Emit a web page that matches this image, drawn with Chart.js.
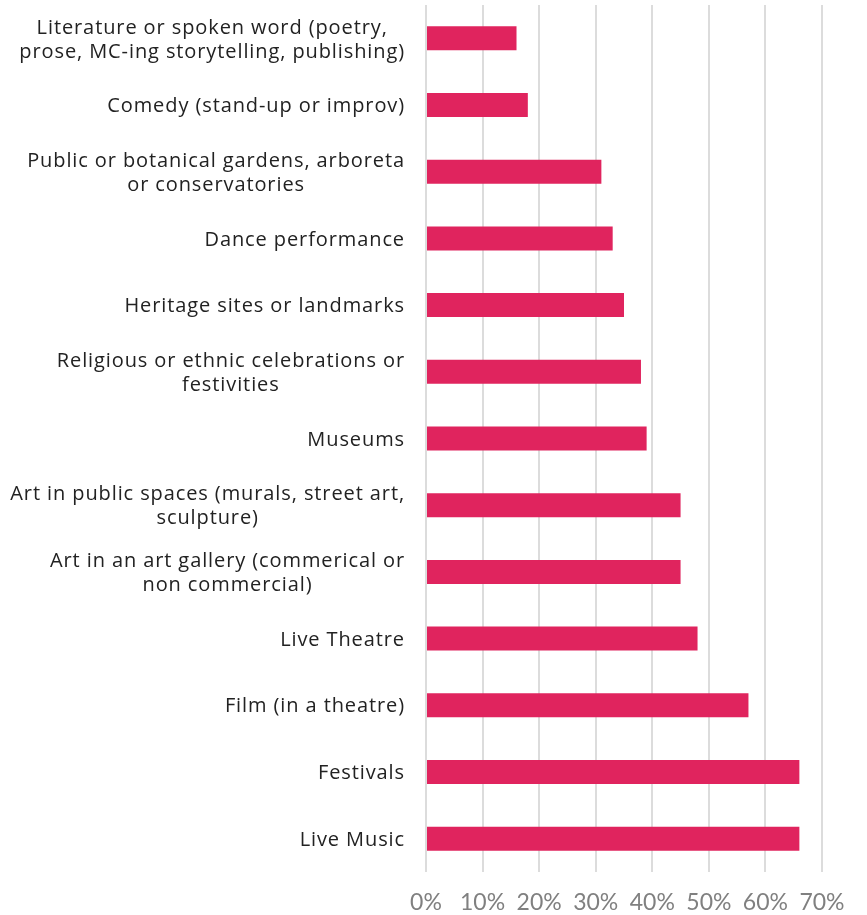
<!DOCTYPE html>
<html>
<head>
<meta charset="utf-8">
<script src="https://cdn.jsdelivr.net/npm/chart.js@4"></script>
<style>
  html, body { margin: 0; padding: 0; background: #fff; }
  #wrap { width: 867px; height: 915px; position: relative; }
</style>
</head>
<body>
<div id="wrap"><canvas id="attendanceChart"></canvas></div>
<script>
// Categories, top to bottom (multi-line labels as arrays)
const categories = [
    ['Literature or spoken word (poetry,', 'prose, MC-ing storytelling, publishing)'],
    'Comedy (stand-up or improv)',
    ['Public or botanical gardens, arboreta', 'or conservatories'],
    'Dance performance',
    'Heritage sites or landmarks',
    ['Religious or ethnic celebrations or', 'festivities'],
    'Museums',
    ['Art in public spaces (murals, street art,', 'sculpture)'],
    ['Art in an art gallery (commerical or', 'non commercial)'],
    'Live Theatre',
    'Film (in a theatre)',
    'Festivals',
    'Live Music'
];

// Share of respondents, in percent
const shares = [16, 18, 31, 33, 35, 38, 39, 45, 45, 48, 57, 66, 66];

const xTicks = [0, 10, 20, 30, 40, 50, 60, 70];

const labelFont = '20px "Open Sans"';
const labelLineHeight = 24;

// Draws the category labels: lines centred on each other, block right-aligned to the axis
const blockLabels = {
    id: 'blockLabels',
    afterDraw(chart) {
        const ctx = chart.ctx;
        const yScale = chart.scales.y;
        ctx.save();
        ctx.font = labelFont;
        ctx.letterSpacing = '0.9px';
        ctx.fillStyle = '#222222';
        ctx.textAlign = 'center';
        ctx.textBaseline = 'middle';
        categories.forEach((label, i) => {
            const lines = Array.isArray(label) ? label : [label];
            const w = Math.max(...lines.map(l => ctx.measureText(l).width));
            const cx = yScale.right - 21 - w / 2;
            const cy = yScale.getPixelForValue(i) + 1.5;
            lines.forEach((line, j) => {
                ctx.fillText(line, cx, cy + (j - (lines.length - 1) / 2) * labelLineHeight);
            });
        });
        ctx.restore();
    }
};

const ctx = document.getElementById('attendanceChart').getContext('2d');

new Chart(ctx, {
    type: 'bar',
    data: {
        labels: categories,
        datasets: [{
            data: shares,
            backgroundColor: '#E0245E',
            borderWidth: 0,
            barPercentage: 0.36,
            categoryPercentage: 1
        }]
    },
    options: {
        indexAxis: 'y',
        responsive: true,
        maintainAspectRatio: false,
        animation: false,
        layout: {
            padding: { top: 5, right: 45, left: 0, bottom: 0 }
        },
        plugins: {
            legend: { display: false },
            tooltip: { enabled: false }
        },
        scales: {
            x: {
                min: 0,
                max: 70,
                afterBuildTicks: (scale) => {
                    scale.ticks = xTicks.map(v => ({ value: v }));
                },
                afterFit: (scale) => { scale.height = 43; },
                border: { display: false },
                grid: {
                    color: '#dcdcdc',
                    lineWidth: 2,
                    drawTicks: false
                },
                ticks: {
                    padding: 17,
                    color: '#808080',
                    font: { family: 'Lato', size: 23 },
                    callback: (v) => v + '%'
                }
            },
            y: {
                afterFit: (scale) => { scale.width = 426; },
                border: { display: false },
                grid: { display: false },
                ticks: { display: false }
            }
        }
    },
    plugins: [blockLabels]
});
</script>
</body>
</html>
